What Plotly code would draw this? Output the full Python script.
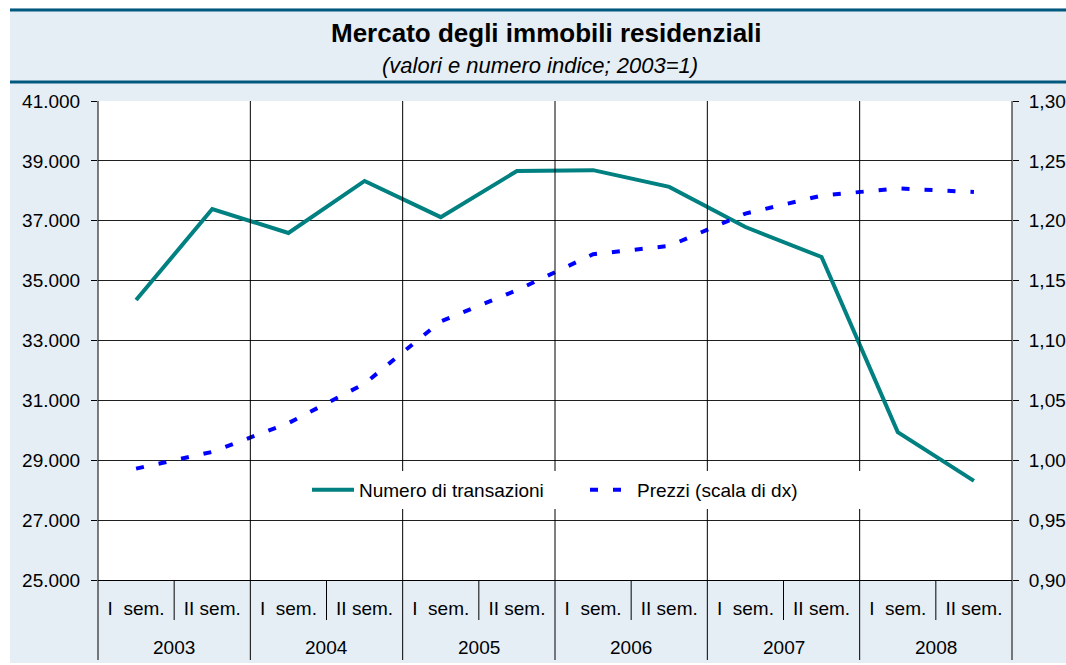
import plotly.graph_objects as go

# ---- data ----
years = ["2003", "2004", "2005", "2006", "2007", "2008"]
semesters = ["I\u00a0 sem.", "II sem."]
transazioni = [34350, 37390, 36590, 38330, 37120, 38660,
               38690, 38130, 36790, 35790, 29940, 28310]
prezzi = [0.993, 1.007, 1.031, 1.064, 1.116, 1.142,
          1.172, 1.179, 1.206, 1.221, 1.227, 1.224]
left_ticks = [25000, 27000, 29000, 31000, 33000, 35000, 37000, 39000, 41000]
right_ticks = [0.90, 0.95, 1.00, 1.05, 1.10, 1.15, 1.20, 1.25, 1.30]

title = "<b>Mercato degli immobili residenziali</b>"
subtitle = "<i>(valori e numero indice; 2003=1)</i>"

# ---- layout geometry ----
W, H = 1066, 665
PL, PR, PT, PB = 98, 1012, 101, 580
FONT = "Liberation Sans, Arial, sans-serif"
BG = "#E6EEF5"
DARK = "#00587F"


def fx(px):
    return (px - PL) / (PR - PL)


def fy(py):
    return (PB - py) / (PB - PT)


keys = [f"{y} {s}" for y in years for s in semesters]
sem_labels = [s for y in years for s in semesters]
n = len(keys)
per_year = len(semesters)

fig = go.Figure()
fig.add_trace(go.Scatter(
    x=keys, y=transazioni, name="Numero di transazioni", mode="lines",
    line=dict(color="#008080", width=4), yaxis="y"))
fig.add_trace(go.Scatter(
    x=keys, y=prezzi, name="Prezzi (scala di dx)", mode="lines",
    line=dict(color="#0000FF", width=4, dash="8px,15px"), yaxis="y2"))

shapes = []
# white outer edges
shapes.append(dict(type="rect", xref="paper", yref="paper", x0=fx(-5), x1=fx(10),
                   y0=fy(-5), y1=fy(H + 5), fillcolor="white", line_width=0))
shapes.append(dict(type="rect", xref="paper", yref="paper", x0=fx(-5), x1=fx(W + 5),
                   y0=fy(-5), y1=fy(8), fillcolor="white", line_width=0))
shapes.append(dict(type="rect", xref="paper", yref="paper", x0=fx(-5), x1=fx(W + 5),
                   y0=fy(663), y1=fy(H + 5), fillcolor="white", line_width=0))
# dark blue title rules
for py in (10, 82):
    shapes.append(dict(type="line", xref="paper", yref="paper", x0=fx(10), x1=fx(W + 5),
                       y0=fy(py), y1=fy(py), line=dict(color=DARK, width=3)))
# year boundaries (gridlines + dividers)
for k in range(len(years) + 1):
    xp = k * per_year / n
    shapes.append(dict(type="line", xref="paper", yref="paper", x0=xp, x1=xp,
                       y0=fy(660), y1=1, line=dict(color="black", width=1)))
# semester separators under the axis
for k in range(len(years)):
    xp = (k * per_year + 1) / n
    shapes.append(dict(type="line", xref="paper", yref="paper", x0=xp, x1=xp,
                       y0=fy(620), y1=0, line=dict(color="black", width=1)))

annotations = [
    dict(text=title, xref="paper", yref="paper", x=fx(546), y=fy(33), showarrow=False,
         font=dict(size=26, color="black", family=FONT), xanchor="center", yanchor="middle"),
    dict(text=subtitle, xref="paper", yref="paper", x=fx(540), y=fy(66), showarrow=False,
         font=dict(size=22, color="black", family=FONT), xanchor="center", yanchor="middle"),
]
for k, y in enumerate(years):
    annotations.append(dict(text=y, xref="paper", yref="paper", x=(k * per_year + per_year / 2) / n,
                            y=fy(647), showarrow=False, xanchor="center", yanchor="middle",
                            font=dict(size=19, color="black", family=FONT)))

fig.update_layout(
    width=W, height=H, autosize=False,
    margin=dict(l=PL, r=W - PR, t=PT, b=H - PB, pad=0, autoexpand=False),
    paper_bgcolor=BG, plot_bgcolor="white",
    separators=",.",
    font=dict(family=FONT, size=19, color="black"),
    showlegend=True,
    legend=dict(orientation="h", x=fx(307), y=fy(490), xanchor="left", yanchor="middle",
                bgcolor="white", borderwidth=0, font=dict(size=19, family=FONT),
                itemwidth=42, entrywidth=221, entrywidthmode="pixels", traceorder="normal"),
    xaxis=dict(type="category", range=[-0.5, n - 0.5], tickvals=keys, ticktext=sem_labels,
               showgrid=False, showline=True, linecolor="black", linewidth=1,
               ticks="", ticklabelstandoff=11, zeroline=False, automargin=False,
               tickfont=dict(size=19, family=FONT)),
    yaxis=dict(range=[left_ticks[0], left_ticks[-1]], tickvals=left_ticks, tickformat=",.0f",
               showgrid=True, gridcolor="#202020", gridwidth=1, zeroline=False,
               ticks="outside", ticklen=6, tickcolor="black", showline=False,
               ticklabelstandoff=7, automargin=False,
               tickfont=dict(size=19, family=FONT)),
    yaxis2=dict(range=[right_ticks[0], right_ticks[-1]], tickvals=right_ticks, tickformat=".2f",
                overlaying="y", side="right", showgrid=False, zeroline=False,
                ticks="outside", ticklen=6, tickcolor="black", showline=False,
                ticklabelstandoff=6, automargin=False,
                tickfont=dict(size=19, family=FONT)),
    shapes=shapes,
    annotations=annotations,
)

fig.write_html("out.html", config={"displayModeBar": False},
               post_script="document.body.style.margin='0';document.body.style.padding='0';")
